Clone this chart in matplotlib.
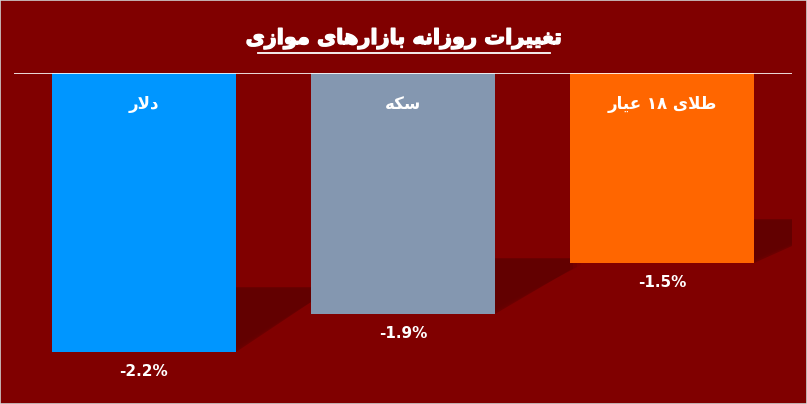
import matplotlib
matplotlib.use('Agg')
import matplotlib.pyplot as plt
import matplotlib.patheffects as pe
from matplotlib import font_manager
from matplotlib.font_manager import FontProperties
from matplotlib.ft2font import FT2Font
from matplotlib.patches import Polygon, Rectangle
from matplotlib.lines import Line2D

# ---------------- data ----------------
categories = ['دلار', 'سکه', 'طلای ۱۸ عیار']
values = [-2.2, -1.9, -1.5]
value_labels = ['-2.2%', '-1.9%', '-1.5%']
bar_colors = ['#0096FF', '#8497B0', '#FF6600']
title = 'تغییرات روزانه بازارهای موازی'

BG = '#800000'

# ---------------- simple Persian shaping ----------------
FORMS = {
    'ا': ('\uFE8D', '\uFE8E', None, None),
    'ب': ('\uFE8F', '\uFE90', '\uFE91', '\uFE92'),
    'ت': ('\uFE95', '\uFE96', '\uFE97', '\uFE98'),
    'د': ('\uFEA9', '\uFEAA', None, None),
    'ر': ('\uFEAD', '\uFEAE', None, None),
    'ز': ('\uFEAF', '\uFEB0', None, None),
    'س': ('\uFEB1', '\uFEB2', '\uFEB3', '\uFEB4'),
    'ط': ('\uFEC1', '\uFEC2', '\uFEC3', '\uFEC4'),
    'ع': ('\uFEC9', '\uFECA', '\uFECB', '\uFECC'),
    'غ': ('\uFECD', '\uFECE', '\uFECF', '\uFED0'),
    'ل': ('\uFEDD', '\uFEDE', '\uFEDF', '\uFEE0'),
    'م': ('\uFEE1', '\uFEE2', '\uFEE3', '\uFEE4'),
    'ن': ('\uFEE5', '\uFEE6', '\uFEE7', '\uFEE8'),
    'ه': ('\uFEE9', '\uFEEA', '\uFEEB', '\uFEEC'),
    'و': ('\uFEED', '\uFEEE', None, None),
    'ی': ('\uFBFC', '\uFBFD', '\uFBFE', '\uFBFF'),
    'ک': ('\uFB8E', '\uFB8F', '\uFB90', '\uFB91'),
    'لا': ('\uFEFB', '\uFEFC', None, None),
}


def pick_font(weight):
    path = font_manager.findfont(FontProperties(family='DejaVu Sans', weight=weight))
    cmap = FT2Font(path).get_charmap()
    return path, cmap


bold_path, bold_cmap = pick_font('bold')
if 0xFE8D in bold_cmap:
    AR_WEIGHT, AR_CMAP = 'bold', bold_cmap
else:
    AR_WEIGHT = 'normal'
    AR_CMAP = pick_font('normal')[1]


def shape(s, cmap=AR_CMAP):
    units = []
    i = 0
    while i < len(s):
        if s[i] == 'ل' and i + 1 < len(s) and s[i + 1] == 'ا':
            units.append('لا')
            i += 2
        else:
            units.append(s[i])
            i += 1

    def joins(u):
        return u in FORMS

    def dual(u):
        return u in FORMS and FORMS[u][2] is not None

    out = []
    for k, u in enumerate(units):
        if u not in FORMS:
            out.append(u)
            continue
        prev = units[k - 1] if k > 0 else None
        nxt = units[k + 1] if k + 1 < len(units) else None
        cp = prev is not None and dual(prev)
        cn = dual(u) and nxt is not None and joins(nxt)
        iso, fin, ini, med = FORMS[u]
        if cp and cn:
            g = med
        elif cp:
            g = fin
        elif cn:
            g = ini
        else:
            g = iso
        if ord(g[0]) not in cmap:
            g = u[::-1]
        out.append(g)
    rev = out[::-1]
    res, run = [], []
    for g in rev:
        if len(g) == 1 and g.isdigit():
            run.append(g)
        else:
            if run:
                res.extend(run[::-1])
                run = []
            res.append(g)
    if run:
        res.extend(run[::-1])
    return ''.join(res)


# ---------------- figure ----------------
W, H = 807, 404
fig = plt.figure(figsize=(W / 100, H / 100), dpi=100, facecolor=BG)

ax_left, ax_right, ax_top = 14, 792, 73
ax = fig.add_axes([ax_left / W, 0, (ax_right - ax_left) / W, 1 - ax_top / H])
ax.set_facecolor(BG)
ax.set_xlim(-0.5, 2.5)
px_per_unit = 126.6
ax.set_ylim(-(H - ax_top) / px_per_unit, 0)
for sp in ax.spines.values():
    sp.set_visible(False)
ax.set_xticks([])
ax.set_yticks([])

x = list(range(len(values)))
bw = 0.71

# soft shadows behind the bars (drop to the right)
for xi, v in zip(x, values):
    R = xi + bw / 2
    top = v * 0.77
    ext = 0.29
    br = top + 0.22 * (v - top)
    layers = [(0.04, 0.12), (0.025, 0.2), (0.012, 0.3), (0.0, 0.6)]
    for grow, alpha in layers:
        poly = Polygon([(R, v + grow), (R, top - grow * 0.3), (R + ext + grow, top - grow * 0.3),
                        (R + ext + grow, br + grow)],
                       closed=True, facecolor='#5c0000', edgecolor='none', alpha=alpha, zorder=1)
        ax.add_patch(poly)

ax.bar(x, values, width=bw, color=bar_colors, zorder=3, linewidth=0)
ax.axhline(0, color='white', lw=1.2, zorder=4)

for xi, v, cat, lab in zip(x, values, categories, value_labels):
    ax.text(xi, -31 / px_per_unit, shape(cat), ha='center', va='center', color='white',
            fontsize=12, fontweight=AR_WEIGHT, family='DejaVu Sans', zorder=5)
    ax.text(xi, v - 20 / px_per_unit, lab, ha='center', va='center', color='white',
            fontsize=11, fontweight='bold', family='DejaVu Sans', zorder=5)

# title with underline
fig.text(404 / W, 1 - 44 / H, shape(title), ha='center', va='baseline', color='white',
         fontsize=15, fontweight=AR_WEIGHT, family='DejaVu Sans',
         path_effects=[pe.withStroke(linewidth=1.0, foreground='white')])
fig.add_artist(Line2D([258 / W, 550 / W], [1 - 52.5 / H, 1 - 52.5 / H], color='white', lw=1.3,
                      transform=fig.transFigure))

# thin image border
fig.add_artist(Rectangle((0, 0), 1, 1, transform=fig.transFigure, fill=False,
                         edgecolor='#d0d0d0', lw=1.2))

fig.savefig('out.png', dpi=100, facecolor=BG)
